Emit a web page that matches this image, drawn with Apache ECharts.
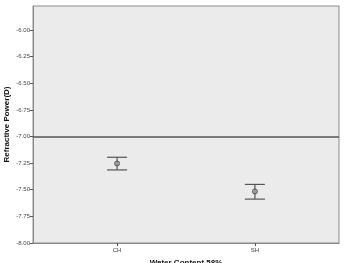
<!DOCTYPE html>
<html><head><meta charset="utf-8">
<script src="https://cdn.jsdelivr.net/npm/echarts@6/dist/echarts.min.js"></script>
<style>html,body{margin:0;padding:0;background:#fff}#c{width:344px;height:263px}</style>
</head><body><div id="c"></div>
<script>
const categories = ['CH', 'SH'];
const means = [-7.254, -7.516];
const lower = [-7.314, -7.588];
const upper = [-7.195, -7.450];
const yTicks = [-8.00, -7.75, -7.50, -7.25, -7.00, -6.75, -6.50, -6.25, -6.00];
const refValue = -7.00;
const xTitle = 'Water Content 58%';
const yTitle = 'Refractive Power(D)';

const chart = echarts.init(document.getElementById('c'));
const pos = categories.map((c, i) => i + 1);
chart.setOption({
  animation: false,
  backgroundColor: '#fff',
  grid: {left: 33, right: 5, top: 6, bottom: 20, show: true, backgroundColor: '#ebebeb', borderColor: '#8a8a8a', borderWidth: 1,
    containLabel: false, outerBoundsMode: 'none'},
  xAxis: {
    type: 'value', min: 0.39, max: 2.61,
    splitLine: {show: false},
    axisLine: {show: true, lineStyle: {color: '#8a8a8a'}},
    axisTick: {show: true, length: 3, customValues: pos, lineStyle: {color: '#555'}},
    axisLabel: {customValues: pos, fontSize: 6, color: '#444', margin: 4, fontFamily: 'Liberation Sans',
      formatter: v => categories[Math.round(v) - 1] || ''},
    name: xTitle, nameLocation: 'middle', nameGap: 16, nameMoveOverlap: false,
    nameTextStyle: {fontSize: 8, fontWeight: 'bold', color: '#111', fontFamily: 'Liberation Sans'}
  },
  yAxis: {
    type: 'value', min: -8, max: -5.775,
    splitLine: {show: false},
    axisLine: {show: true, lineStyle: {color: '#8a8a8a'}},
    axisTick: {show: true, length: 3, customValues: yTicks, lineStyle: {color: '#555'}},
    axisLabel: {customValues: yTicks, fontSize: 6, color: '#444', margin: 3, fontFamily: 'Liberation Sans',
      formatter: v => v.toFixed(2)},
    name: yTitle, nameLocation: 'middle', nameGap: 26, nameRotate: 90, nameMoveOverlap: false,
    nameTextStyle: {fontSize: 8, fontWeight: 'bold', color: '#111', fontFamily: 'Liberation Sans',
      verticalAlign: 'middle'}
  },
  series: [
    {
      type: 'line', data: [], markLine: {
        silent: true, symbol: 'none', label: {show: false},
        lineStyle: {color: '#555', width: 1.5, type: 'solid'},
        data: [{yAxis: refValue}]
      }
    },
    {
      type: 'custom',
      data: categories.map((c, i) => [pos[i], lower[i], upper[i]]),
      renderItem: function (params, api) {
        const x = api.value(0);
        const lo = api.coord([x, api.value(1)]);
        const hi = api.coord([x, api.value(2)]);
        const hw = 10;
        const style = {stroke: '#555', lineWidth: 1.2};
        return {type: 'group', children: [
          {type: 'line', shape: {x1: lo[0], y1: lo[1], x2: hi[0], y2: hi[1]}, style},
          {type: 'line', shape: {x1: lo[0] - hw, y1: lo[1], x2: lo[0] + hw, y2: lo[1]}, style},
          {type: 'line', shape: {x1: hi[0] - hw, y1: hi[1], x2: hi[0] + hw, y2: hi[1]}, style}
        ]};
      }
    },
    {
      type: 'scatter', symbol: 'circle', symbolSize: 5,
      data: categories.map((c, i) => [pos[i], means[i]]),
      itemStyle: {color: '#9a9a9a', borderColor: '#444', borderWidth: 1}
    }
  ]
});
</script></body></html>
